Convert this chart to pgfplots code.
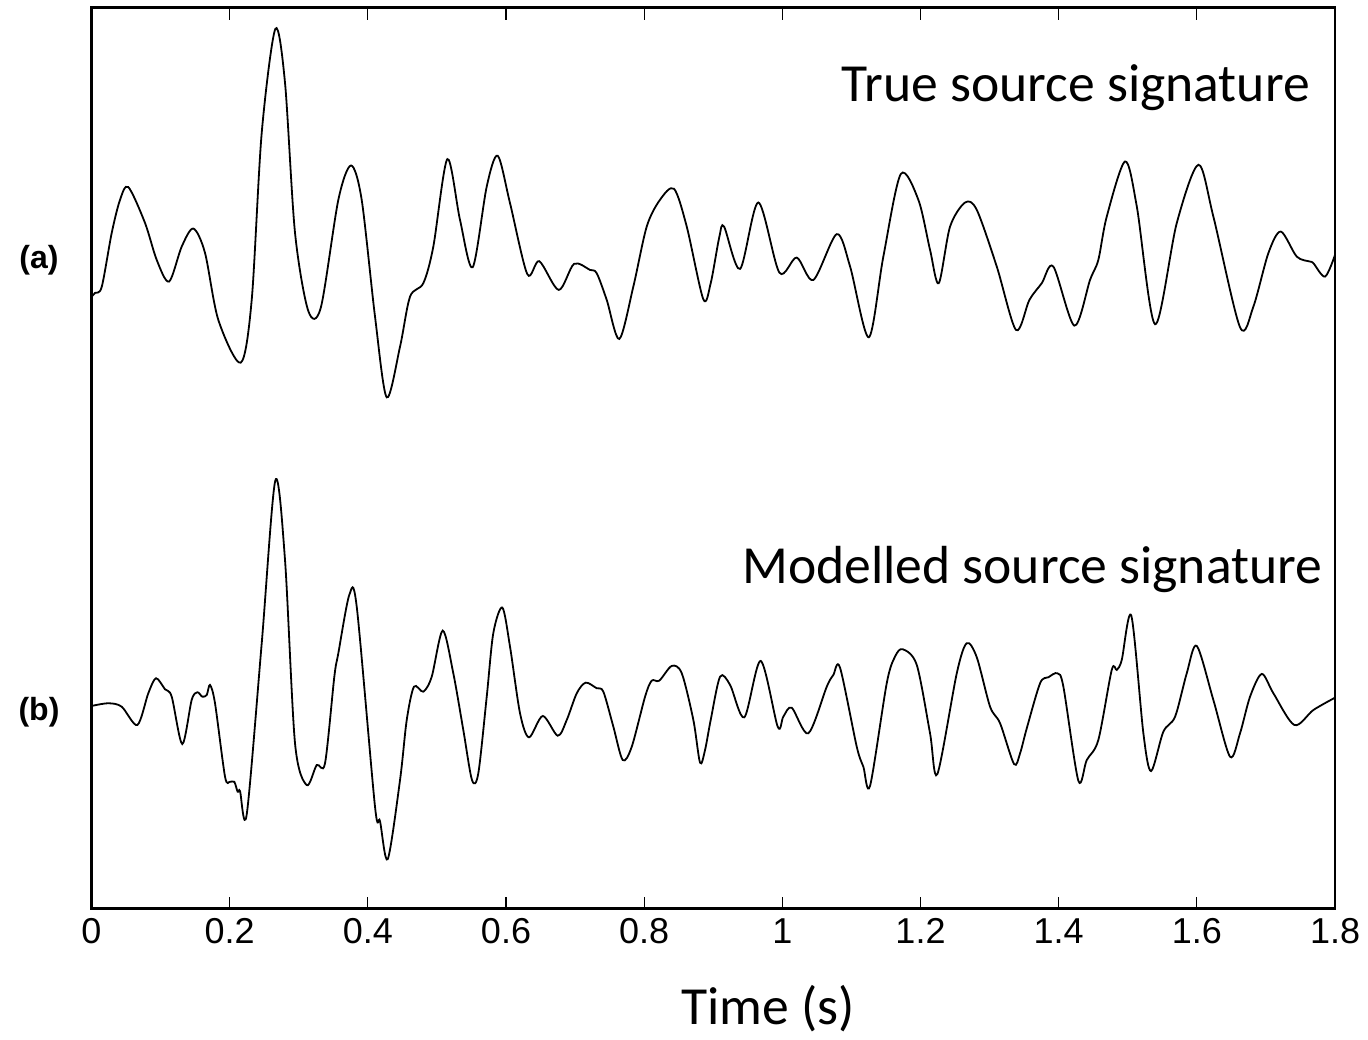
\documentclass[border=0pt]{standalone}
\usepackage{fontspec}
\setmainfont{Carlito}
\newfontfamily\helv{Liberation Sans}
\usepackage{pgfplots}
\usepackage{pgfplotstable}
\pgfplotsset{compat=1.18}

% True source signature: time (s), amplitude
\pgfplotstableread{
t amp
0.0000 0.000
0.0051 0.040
0.0148 0.100
0.0292 0.637
0.0413 0.970
0.0533 1.097
0.0774 0.740
0.0944 0.370
0.1122 0.153
0.1306 0.503
0.1474 0.683
0.1643 0.440
0.1836 -0.230
0.2160 -0.657
0.2319 -0.030
0.2464 1.640
0.2661 2.677
0.2801 2.140
0.2946 0.640
0.3138 -0.140
0.3320 -0.105
0.3573 0.970
0.3757 1.313
0.3911 0.970
0.4104 -0.197
0.4273 -1.003
0.4466 -0.497
0.4611 0.003
0.4803 0.137
0.4948 0.503
0.5151 1.377
0.5334 0.770
0.5518 0.297
0.5721 1.103
0.5880 1.410
0.6058 0.937
0.6309 0.227
0.6482 0.357
0.6763 0.070
0.6985 0.330
0.7216 0.270
0.7313 0.237
0.7458 -0.030
0.7640 -0.420
0.7843 0.103
0.8037 0.703
0.8229 0.970
0.8432 1.080
0.8616 0.703
0.8856 -0.023
0.8963 0.137
0.9088 0.600
0.9156 0.703
0.9388 0.280
0.9653 0.943
0.9957 0.243
1.0208 0.393
1.0449 0.170
1.0787 0.627
1.0981 0.303
1.1251 -0.403
1.1462 0.403
1.1714 1.227
1.1969 0.970
1.2138 0.470
1.2264 0.137
1.2428 0.703
1.2645 0.943
1.2814 0.870
1.3104 0.303
1.3383 -0.330
1.3576 -0.030
1.3755 0.137
1.3923 0.303
1.4227 -0.287
1.4454 0.170
1.4574 0.370
1.4696 0.803
1.4961 1.353
1.5131 0.903
1.5396 -0.273
1.5709 0.737
1.6022 1.320
1.6239 0.803
1.6625 -0.303
1.6818 -0.097
1.7035 0.437
1.7215 0.653
1.7446 0.403
1.7639 0.353
1.7687 0.337
1.7856 0.203
1.8000 0.420
}\truesig

% Modelled source signature: time (s), amplitude
\pgfplotstableread{
t amp
0.0000 0.000
0.0243 0.027
0.0437 -0.007
0.0663 -0.190
0.0822 0.127
0.0934 0.277
0.1064 0.167
0.1161 0.093
0.1314 -0.380
0.1450 0.060
0.1532 0.137
0.1604 0.093
0.1668 0.110
0.1715 0.210
0.1788 0.027
0.1933 -0.707
0.2005 -0.757
0.2067 -0.757
0.2116 -0.857
0.2150 -0.850
0.2247 -1.083
0.2464 0.627
0.2661 2.253
0.2801 1.460
0.2946 -0.373
0.3115 -0.790
0.3260 -0.590
0.3380 -0.573
0.3515 0.293
0.3573 0.527
0.3732 1.110
0.3839 0.993
0.4104 -1.007
0.4176 -1.150
0.4288 -1.530
0.4466 -0.740
0.4563 -0.140
0.4668 0.193
0.4803 0.143
0.4925 0.293
0.5084 0.753
0.5237 0.327
0.5382 -0.240
0.5508 -0.740
0.5599 -0.673
0.5721 0.093
0.5816 0.727
0.5947 0.983
0.6058 0.593
0.6203 -0.073
0.6333 -0.313
0.6532 -0.100
0.6749 -0.297
0.6879 -0.140
0.7024 0.127
0.7154 0.233
0.7313 0.177
0.7409 0.143
0.7554 -0.207
0.7690 -0.540
0.7820 -0.407
0.8013 0.093
0.8109 0.253
0.8219 0.253
0.8399 0.400
0.8544 0.327
0.8712 -0.140
0.8809 -0.567
0.8881 -0.440
0.8963 -0.140
0.9099 0.293
0.9244 0.210
0.9450 -0.113
0.9687 0.450
0.9933 -0.207
1.0014 -0.107
1.0136 -0.017
1.0376 -0.273
1.0643 0.193
1.0738 0.310
1.0835 0.383
1.1077 -0.407
1.1173 -0.607
1.1270 -0.797
1.1511 0.227
1.1631 0.493
1.1743 0.567
1.1946 0.410
1.2138 -0.273
1.2244 -0.680
1.2525 0.327
1.2669 0.627
1.2814 0.487
1.3007 -0.007
1.3152 -0.173
1.3354 -0.580
1.3441 -0.473
1.3538 -0.223
1.3731 0.227
1.3851 0.287
1.3981 0.327
1.4068 0.193
1.4285 -0.747
1.4406 -0.540
1.4574 -0.340
1.4768 0.360
1.4841 0.360
1.4913 0.460
1.5052 0.900
1.5226 -0.273
1.5337 -0.650
1.5515 -0.257
1.5685 -0.107
1.5854 0.327
1.5999 0.600
1.6239 0.060
1.6481 -0.507
1.6625 -0.273
1.6770 0.093
1.6940 0.320
1.7108 0.127
1.7412 -0.190
1.7687 -0.040
1.8000 0.083
}\modelsig

\begin{document}
\begin{tikzpicture}
\begin{axis}[
  scale only axis,
  width=621.75pt, height=450.5pt,
  xmin=0, xmax=1.8, ymin=0, ymax=9,
  axis line style={line width=1.1pt},
  xtick={0,0.2,...,1.8},
  xticklabels={0,0.2,0.4,0.6,0.8,1,1.2,1.4,1.6,1.8},
  ytick=\empty,
  tick align=inside,
  major tick length=6pt,
  tick style={line width=0.6pt, black},
  /pgf/number format/assume math mode=true,
  xticklabel style={font=\helv\fontsize{18}{18}\selectfont,
    anchor=base, text height=12pt, yshift=-17.5pt},
  clip=false,
]
\addplot[black, line width=0.9pt, smooth] table[x=t, y expr=\thisrow{amp}+6.109] {\truesig};
\addplot[black, line width=0.9pt, smooth] table[x=t, y expr=\thisrow{amp}+2.023] {\modelsig};

\node[anchor=base east, inner sep=0pt, font=\fontsize{26.8}{30}\selectfont]
  at (axis cs:1.764,8.06) {True source signature};
\node[anchor=base east, inner sep=0pt, font=\fontsize{26.8}{30}\selectfont]
  at (axis cs:1.782,3.242) {Modelled source signature};
\node[font=\helv\bfseries\fontsize{16}{16}\selectfont]
  at (axis cs:-0.076,6.479) {(a)};
\node[font=\helv\bfseries\fontsize{16}{16}\selectfont]
  at (axis cs:-0.076,1.96) {(b)};
\node[anchor=base, inner sep=0pt, font=\fontsize{26.8}{30}\selectfont]
  at (axis cs:0.979,-1.16) {Time (s)};
\end{axis}
\pgfresetboundingbox
\path (-45.75pt,-65.25pt) rectangle (638.25pt,454.25pt);
\end{tikzpicture}
\end{document}
